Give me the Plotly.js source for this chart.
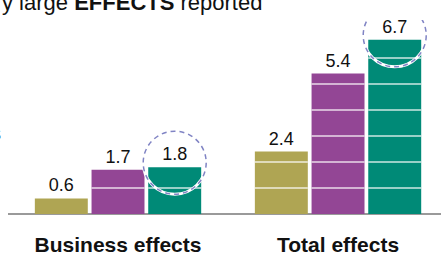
<!DOCTYPE html>
<html>
<head>
<meta charset="utf-8">
<script src="https://cdn.plot.ly/plotly-3.0.1.min.js"></script>
<style>html,body{margin:0;padding:0;background:#fff;}#chart{width:441px;height:257px;}</style>
</head>
<body>
<div id="chart"></div>
<script>
// ---- data ----
var categories = ["Business effects", "Total effects"];
var seriesNames = ["Series A", "Series B", "Series C"];
var seriesA = [0.6, 2.4];
var seriesB = [1.7, 5.4];
var seriesC = [1.8, 6.7];
var seriesColors = ["#AFA553", "#934695", "#008A77"];
var gridValues = [1, 2, 3, 4, 5, 6, 7];
var highlightSeries = 2; // circled bars belong to the third series
var titleText = "y large <b>EFFECTS</b> reported";

var allSeries = [seriesA, seriesB, seriesC];
var bargap = 0.227, bargroupgap = 0.066;

var traces = allSeries.map(function (vals, k) {
  return {
    type: "bar",
    name: seriesNames[k],
    x: categories,
    y: vals,
    marker: {color: seriesColors[k], line: {width: 0}},
    text: vals.map(function (v) { return v.toFixed(1); }),
    textposition: "outside",
    textfont: {family: "Liberation Sans, Arial, sans-serif", size: 18, color: "#111"},
    cliponaxis: false,
    hoverinfo: "x+y"
  };
});

// bar geometry in category units (derived from bargap settings)
var groupW = 1 - bargap;
var slot = groupW / allSeries.length;
var barW = slot * (1 - bargroupgap);
function barCenter(i, k) { return i - groupW / 2 + (k + 0.5) * slot; }

var shapes = [];
// white rule lines crossing each bar at each unit below its top
allSeries.forEach(function (vals, k) {
  vals.forEach(function (v, i) {
    var c = barCenter(i, k);
    gridValues.forEach(function (g) {
      if (g < v) {
        shapes.push({type: "line", xref: "x", yref: "y", x0: c - barW / 2, x1: c + barW / 2,
          y0: g, y1: g, layer: "above", line: {color: "rgba(255,255,255,0.6)", width: 2}});
      }
    });
  });
});
// highlight circles anchored to the data of the highlighted series
allSeries[highlightSeries].forEach(function (v, i) {
  var base = {type: "circle", xref: "x", yref: "y", xsizemode: "pixel", ysizemode: "pixel",
    xanchor: barCenter(i, highlightSeries), yanchor: v, x0: -31.5, x1: 31.5, y0: -27, y1: 36, layer: "above"};
  shapes.push(Object.assign({}, base, {line: {color: "#ffffff", width: 3}}));
  shapes.push(Object.assign({}, base, {line: {color: "#8084C4", width: 1.5, dash: "5px,4px"}}));
});

var layout = {
  width: 441, height: 257,
  margin: {l: 8, r: 0, t: 20, b: 43, pad: 0},
  paper_bgcolor: "#fff", plot_bgcolor: "#fff",
  barmode: "group", bargap: bargap, bargroupgap: bargroupgap,
  showlegend: false,
  font: {family: "Liberation Sans, Arial, sans-serif", color: "#111"},
  xaxis: {
    type: "category", range: [-0.5, 1.468], showline: false, showgrid: false,
    ticks: "", tickfont: {size: 21, weight: "bold", color: "#111"},
    ticklabelstandoff: 16, fixedrange: true
  },
  yaxis: {
    range: [0, 194 / 26], showticklabels: false, ticks: "",
    showgrid: false,
    zeroline: true, zerolinecolor: "#9a9a9a", zerolinewidth: 2,
    layer: "above traces", fixedrange: true
  },
  shapes: shapes,
  annotations: [
    {text: titleText, xref: "paper", yref: "paper", x: -8 / 433, y: 1.088,
     xanchor: "left", yanchor: "middle", showarrow: false,
     font: {size: 22, color: "#111"}},
    {text: "s", xref: "paper", yref: "paper", x: -5 / 433, y: (214 - 133) / 194,
     xanchor: "right", yanchor: "middle", showarrow: false,
     font: {size: 20, color: "#111"}}
  ]
};

Plotly.newPlot("chart", traces, layout, {displayModeBar: false, staticPlot: true});
</script>
</body>
</html>
